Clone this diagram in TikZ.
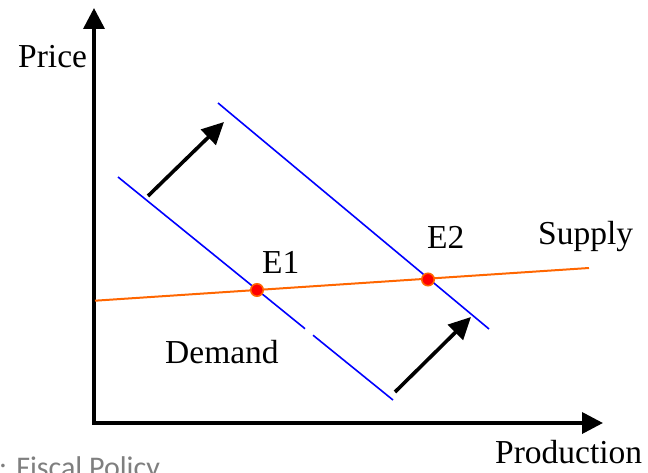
\documentclass[tikz,border=0pt]{standalone}
\usepackage{fontspec}
\setmainfont{Liberation Serif}
\newfontfamily\capfont{Carlito}
\usetikzlibrary{arrows.meta}
\definecolor{supplyc}{RGB}{255,102,0}
\definecolor{demandc}{RGB}{0,0,255}
\definecolor{captc}{RGB}{127,127,127}
\tikzset{
  axis/.style={line width=3.6pt,-{Triangle[length=21pt,width=21pt]}},
  shiftarrow/.style={line width=3.6pt,-{Triangle[length=22pt,width=21pt]}},
  demandline/.style={draw=demandc,line width=1.6pt},
  supplyline/.style={draw=supplyc,line width=2pt},
  eqdot/.style={circle,fill=red,draw=supplyc,line width=1.5pt,inner sep=0pt,minimum size=12.5pt},
  lbl/.style={font=\fontsize{33.5}{40}\selectfont,inner sep=0pt,anchor=base west},
  capt/.style={font=\capfont\fontsize{30}{36}\selectfont,text=captc,inner sep=0pt,anchor=base west}
}
\begin{document}
\begin{tikzpicture}[x=1pt,y=-1pt]
\useasboundingbox (0,0) rectangle (648,473);
\begin{scope}
\clip (0,0) rectangle (648,473);
% axes
\coordinate (origin) at (94,423);
\coordinate (ytip) at (94,8);
\coordinate (xtip) at (603,423);
\draw[axis] (origin) -- (ytip);
\draw[axis] (origin) -- (xtip);
\fill (92.2,421.2) rectangle (95.8,424.8);
% supply
\coordinate (s1) at (95,300.7);
\coordinate (s2) at (589,268);
\draw[supplyline] (s1) -- (s2);
% demand lines
\coordinate (d1a) at (118,177);
\coordinate (d1g1) at (305,328.7);
\coordinate (d1g2) at (313,335.2);
\coordinate (d1b) at (393,400);
\draw[demandline] (d1a) -- (d1g1);
\draw[demandline] (d1g2) -- (d1b);
\coordinate (d2a) at (218,103);
\coordinate (d2b) at (489,329);
\draw[demandline] (d2a) -- (d2b);
% shift arrows
\coordinate (a1s) at (148,196);
\coordinate (a1e) at (224,122);
\coordinate (a2s) at (395,392);
\coordinate (a2e) at (471,317);
\draw[shiftarrow] (a1s) -- (a1e);
\draw[shiftarrow] (a2s) -- (a2e);
% equilibrium points
\node[eqdot] (E1) at (257,290) {};
\node[eqdot] (E2) at (428,279.5) {};
% labels
\node[lbl] (price) at (18,68) {Price};
\node[lbl] (prod) at (495,463) {Production};
\node[lbl] (supply) at (538,245) {Supply};
\node[lbl] (demand) at (165,363) {Demand};
\node[lbl] (e1l) at (262,273) {E1};
\node[lbl] (e2l) at (427,248) {E2};
\node[capt] (cap) at (-1,477) {: Fiscal Policy};
\end{scope}
\end{tikzpicture}
\end{document}
